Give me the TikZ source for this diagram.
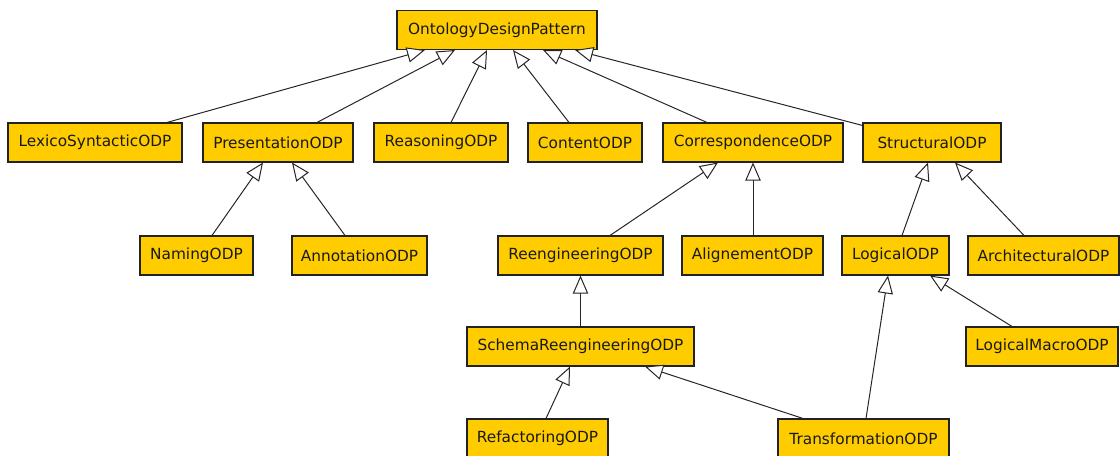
\documentclass[tikz,border=0pt]{standalone}
\usepackage{fontspec}
\setmainfont{DejaVu Sans}
\usetikzlibrary{arrows.meta,calc}
\definecolor{boxfill}{HTML}{FFCC00}
\definecolor{boxline}{HTML}{222222}
\tikzset{
  cls/.style={draw=boxline, line width=0.8pt, fill=boxfill, inner sep=0pt,
    minimum height=29.25pt, text=black!90,
    font=\fontsize{11.5pt}{14pt}\selectfont},
  inherit/.style={draw=black!85, line width=0.75pt,
    -{Triangle[open, fill=white, length=13.5pt, width=11.5pt]}}
}
\begin{document}
\begin{tikzpicture}[x=0.75pt, y=-0.75pt]
\useasboundingbox (0,0) rectangle (1120,456);
\clip (0,0) rectangle (1120,456);
% nodes
\node[cls, minimum width=150pt]   (odp)     at (497,30)      {OntologyDesignPattern};
\node[cls, minimum width=130.5pt] (lexico)  at (95,142.5)    {LexicoSyntacticODP};
\node[cls, minimum width=112.5pt] (pres)    at (278,142.5)   {PresentationODP};
\node[cls, minimum width=100.5pt] (reas)    at (441,142.5)   {ReasoningODP};
\node[cls, minimum width=85.5pt]  (content) at (585,142.5)   {ContentODP};
\node[cls, minimum width=135pt]   (corr)    at (753,142.5)   {CorrespondenceODP};
\node[cls, minimum width=103.5pt] (struct)  at (932,142.5)   {StructuralODP};
\node[cls, minimum width=84.75pt] (naming)  at (196.5,255.5) {NamingODP};
\node[cls, minimum width=101.25pt](annot)   at (359.5,255.5) {AnnotationODP};
\node[cls, minimum width=123.75pt](reeng)   at (580.5,255.5) {ReengineeringODP};
\node[cls, minimum width=105.75pt](align)   at (752.5,255.5) {AlignementODP};
\node[cls, minimum width=80.25pt] (logical) at (895.5,255.5) {LogicalODP};
\node[cls, minimum width=113.25pt](arch)    at (1043.5,255.5){ArchitecturalODP};
\node[cls, minimum width=170.25pt](schema)  at (580.5,346.5) {SchemaReengineeringODP};
\node[cls, minimum width=114pt]   (macro)   at (1042,346.5)  {LogicalMacroODP};
\node[cls, minimum width=105.75pt](refact)  at (537.5,438.5) {RefactoringODP};
\node[cls, minimum width=128.25pt](transf)  at (863.5,438.5) {TransformationODP};
% inheritance connectors
\draw[inherit] ($(lexico.north)+(72,0)$)   -- ($(odp.south)+(-72,0)$);
\draw[inherit] ($(pres.north)+(39,0)$)     -- ($(odp.south)+(-42,0)$);
\draw[inherit] ($(reas.north)+(10,0)$)     -- ($(odp.south)+(-10,0)$);
\draw[inherit] ($(content.north)+(-16,0)$) -- ($(odp.south)+(16,0)$);
\draw[inherit] ($(corr.north)+(-46,0)$)    -- ($(odp.south)+(46,0)$);
\draw[inherit] ($(struct.north west)+(0,3)$) -- ($(odp.south)+(78,0)$);
\draw[inherit] ($(naming.north)+(15.5,0)$) -- ($(pres.south)+(-15,0)$);
\draw[inherit] ($(annot.north)+(-14.5,0)$) -- ($(pres.south)+(14,0)$);
\draw[inherit] ($(reeng.north)+(29.5,0)$)  -- ($(corr.south)+(-35,0)$);
\draw[inherit] (align.north -| corr.south) -- (corr.south);
\draw[inherit] ($(logical.north)+(6.5,0)$) -- ($(struct.south)+(-4,0)$);
\draw[inherit] ($(arch.north)+(-19.5,0)$)  -- ($(struct.south)+(23,0)$);
\draw[inherit] ($(macro.north)+(-30,0)$)   -- ($(logical.south)+(34.5,0)$);
\draw[inherit] ($(transf.north)+(2.5,0)$)  -- ($(logical.south)+(-7.5,0)$);
\draw[inherit] (schema.north) -- (reeng.south);
\draw[inherit] ($(refact.north)+(8.5,0)$)  -- ($(schema.south)+(-10.5,0)$);
\draw[inherit] ($(transf.north)+(-60.5,0)$) -- ($(schema.south)+(64.5,0)$);
\end{tikzpicture}
\end{document}
